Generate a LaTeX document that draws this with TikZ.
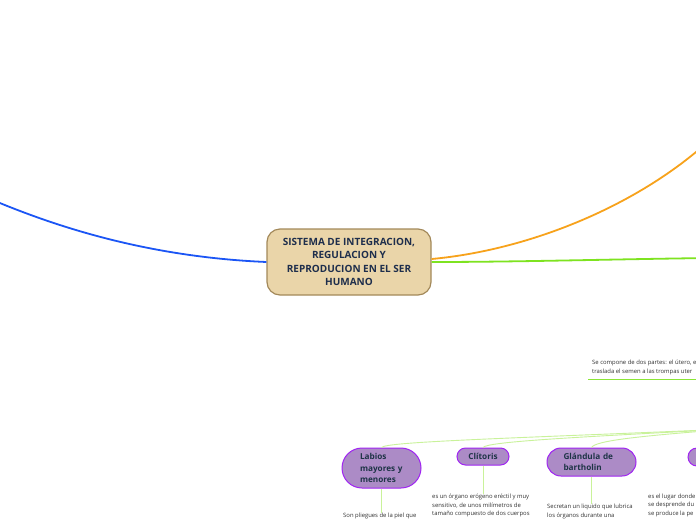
\documentclass[tikz,border=0pt]{standalone}
\usepackage{fontspec}
\setmainfont{Open Sans}
\usetikzlibrary{positioning}

\definecolor{rootfill}{HTML}{EAD5A9}
\definecolor{rootline}{HTML}{A3895A}
\definecolor{navy}{HTML}{1E2E4C}
\definecolor{topicfill}{HTML}{AC8BC6}
\definecolor{topicline}{HTML}{A024F2}
\definecolor{topictext}{HTML}{1E3446}
\definecolor{notegray}{HTML}{333333}
\definecolor{bluebranch}{HTML}{1B55F5}
\definecolor{orangebranch}{HTML}{F7A21B}
\definecolor{greenbranch}{HTML}{7EE320}
\definecolor{twiggreen}{HTML}{C9F29A}

\begin{document}
\begin{tikzpicture}[x=1pt, y=-1pt, every node/.style={font=\fontsize{5.9}{8.8}\selectfont, text=notegray},
	root/.style={draw=rootline, fill=rootfill, line width=1.2pt, rounded corners=13pt, minimum width=164pt, minimum height=66pt, align=center, text=navy, font=\bfseries\fontsize{10}{13.3}\selectfont},
	topic/.style={draw=topicline, fill=topicfill, line width=1pt, inner sep=0pt, align=left, text=topictext, font=\bfseries\fontsize{8.2}{11.5}\selectfont},
	note/.style={inner sep=0pt, align=left, anchor=north west},
	branch/.style={line width=1.8pt},
	twig/.style={twiggreen, line width=0.9pt}]
	\useasboundingbox (0,0) rectangle (696,520);
	\clip (0,0) rectangle (696,520);
	\fill[white] (0,0) rectangle (696,520);
	% main topic and its branches
	\node[root] (root) at (349,262) {SISTEMA DE INTEGRACION,\\REGULACION Y\\REPRODUCION EN EL SER\\HUMANO};
	\coordinate (blueend) at (-5,201);
	\coordinate (orangeend) at (712,138);
	\coordinate (greenend) at (712,258);
	\draw[branch, bluebranch] (root.west) .. controls (150,257) and (60,228) .. (blueend);
	\draw[branch, orangebranch] ([yshift=3pt]root.east) .. controls (530,250) and (640,205) .. (orangeend);
	\draw[branch, greenbranch] (root.east) .. controls (520,262) and (620,259) .. (greenend);
	% utero note
	\node[note] (utero) at (592,359.5) {Se compone de dos partes: el útero, e\\traslada el semen a las trompas uter};
	\draw[greenbranch!90!white, line width=1.6pt] ([xshift=-4pt, yshift=-5pt]utero.south west) -- +(140,0);
	% subtopics
	\coordinate (fan) at (730,429);
	\node[topic, minimum width=79pt, minimum height=40pt, rounded corners=20pt, text width=43pt] (labios) at (381.5,468) {Labios\\mayores y\\menores};
	\node[topic, minimum width=52pt, minimum height=17pt, rounded corners=8.5pt] (clitoris) at (483,456.5) {Clítoris};
	\node[topic, minimum width=89pt, minimum height=28pt, rounded corners=14pt, text width=56pt] (bartholin) at (591.5,462) {Glándula de\\bartholin};
	\node[topic, minimum width=60pt, minimum height=18pt, rounded corners=9pt] (ovario) at (718,457) {};
	\draw[twig] (labios.north) .. controls +(4,-6) and (520,438) .. (fan);
	\draw[twig] (clitoris.north) .. controls +(4,-6) and (580,437) .. (fan);
	\draw[twig] (bartholin.north) .. controls +(4,-7) and (640,436) .. (fan);
	% notes under the subtopics
	\node[note] (labnote) at (343,513) {Son pliegues de la piel que};
	\node[note] (clinote) at (432,493.5) {es un órgano erógeno eréctil y muy\\sensitivo, de unos milímetros de\\tamaño compuesto de dos cuerpos};
	\node[note] (barnote) at (547,504) {Secretan un liquido que lubrica\\los órganos durante una};
	\node[note] (ovanote) at (648,493.5) {es el lugar donde\\se desprende du\\se produce la pe};
	\draw[twig] (labios.south) -- (labios.south |- labnote.north);
	\draw[twig] (clitoris.south) -- (clitoris.south |- clinote.north);
	\draw[twig] (bartholin.south) -- (bartholin.south |- barnote.north);
\end{tikzpicture}
\end{document}
